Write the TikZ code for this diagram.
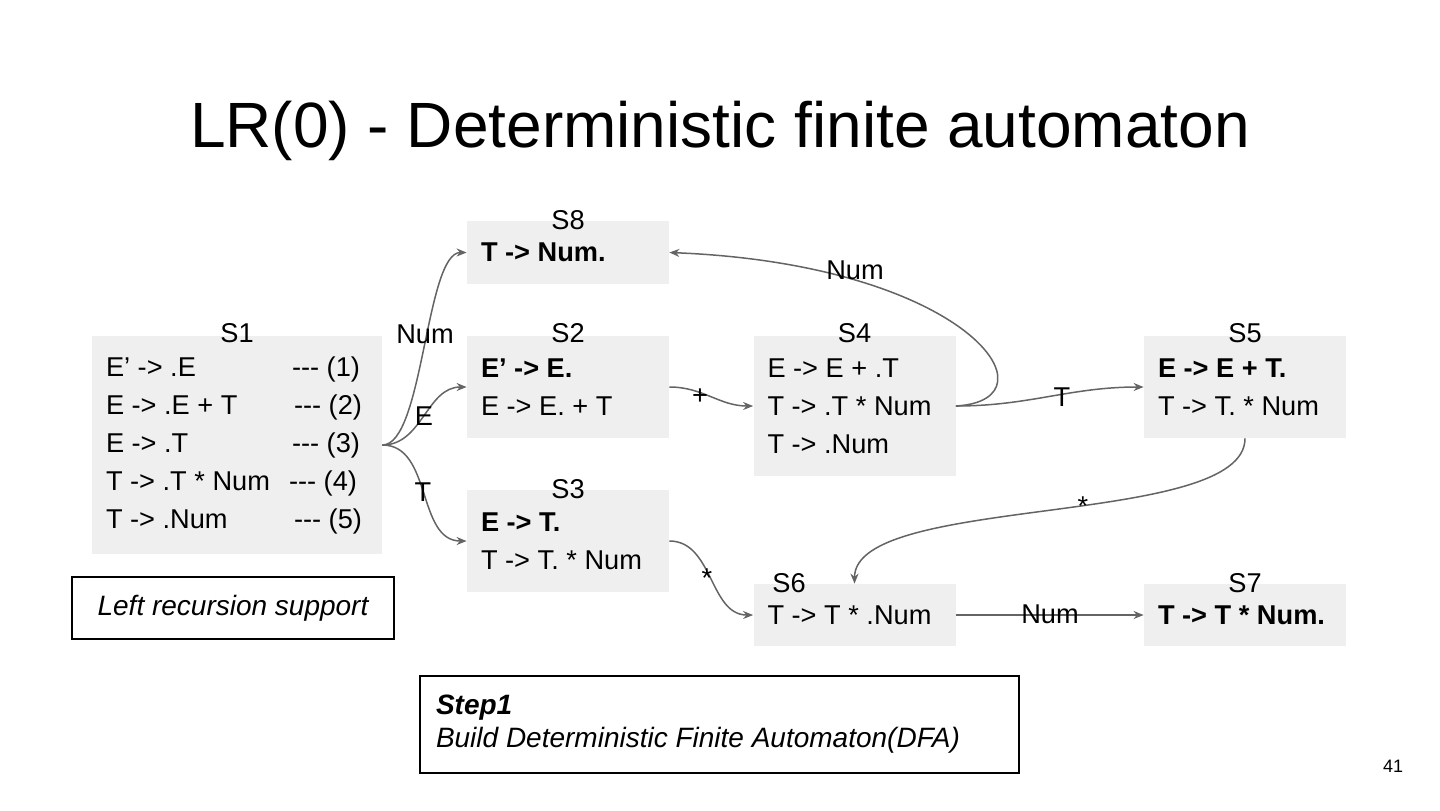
\documentclass[tikz,border=0pt]{standalone}
\usepackage{fontspec}
\setmainfont{Liberation Sans}
\usetikzlibrary{arrows.meta,positioning}
\definecolor{stategrey}{RGB}{239,239,239}
\definecolor{edgegrey}{RGB}{100,100,100}
\newcommand{\dsh}{-\kern0pt-\kern0pt-}
\newcommand{\bodyfont}{\fontsize{13.6}{19}\selectfont}
\tikzset{
  stbox/.style={fill=stategrey,align=flush left,inner xsep=7pt,inner ysep=0pt,font=\bodyfont,
                text width=87pt,minimum width=101pt},
  stname/.style={font=\bodyfont,inner sep=0pt},
  trans/.style={-{Stealth[length=5pt,width=4pt]},draw=edgegrey,line width=0.75pt},
  lbl/.style={font=\bodyfont,inner sep=0pt},
  note/.style={draw=black,line width=0.8pt,fill=white,font=\fontsize{14}{19}\selectfont\itshape},
}

\begin{document}
\begin{tikzpicture}[x=0.5pt,y=-0.5pt]
  \useasboundingbox (0,0) rectangle (1440,810);

  % --- title --------------------------------------------------------------
  \node[font=\fontsize{32}{38}\selectfont,anchor=base] (title) at (720,147)
        {LR(0) - Deterministic finite automaton};

  % --- states -------------------------------------------------------------
  \node[stbox,text width=131pt,minimum width=145pt,minimum height=109pt] (s1) at (237,445)
        {E’ -> .E\hfill\dsh{} (1)\rule{4pt}{0pt}\\
         E -> .E + T\hfill\dsh{} (2)\rule{3pt}{0pt}\\
         E -> .T\hfill\dsh{} (3)\rule{4pt}{0pt}\\
         T -> .T * Num\hfill\dsh{} (4)\rule{5.5pt}{0pt}\\
         T -> .Num\hfill\dsh{} (5)\rule{3pt}{0pt}};
  \node[stbox,minimum height=31.5pt] (s8) at (568,252.5) {\textbf{T -> Num.}};
  \node[stbox,minimum height=51pt]   (s2) at (568,387)
        {\textbf{E’ -> E.}\\E -> E. + T};
  \node[stbox,minimum height=51pt]   (s3) at (568,541)
        {\textbf{E -> T.}\\T -> T. * Num};
  \node[stbox,minimum height=70pt]   (s4) at (854.5,406)
        {E -> E + .T\\T -> .T * Num\\T -> .Num};
  \node[stbox,minimum height=51pt]   (s5) at (1245,387)
        {\textbf{E -> E + T.}\\T -> T. * Num};
  \node[stbox,minimum height=31pt]   (s6) at (854.5,615) {T -> T * .Num};
  \node[stbox,minimum height=31pt]   (s7) at (1245,615) {\textbf{T -> T * Num.}};

  % state names
  \node[stname] (n1) at ([yshift=1pt]s1.north) {S1};
  \node[stname] (n8) at (s8.north) {S8};
  \node[stname] (n2) at ([yshift=1pt]s2.north) {S2};
  \node[stname] (n3) at (s3.north) {S3};
  \node[stname] (n4) at ([yshift=1pt]s4.north) {S4};
  \node[stname] (n5) at ([yshift=1pt]s5.north) {S5};
  \node[stname] (n6) at ([xshift=18pt]s6.north west) {S6};
  \node[stname] (n7) at (s7.north) {S7};

  % --- transitions --------------------------------------------------------
  \draw[trans] (s1.east) to[out=0,in=180,looseness=0.5] (s8.west);
  \draw[trans] (s1.east) to[out=0,in=180] (s2.west);
  \draw[trans] (s1.east) to[out=0,in=180] (s3.west);
  \draw[trans] (s2.east) to[out=0,in=180] (s4.west);
  \draw[trans] (s3.east) to[out=0,in=180] (s6.west);
  \draw[trans] (s4.east) to[out=0,in=180] (s5.west);
  \draw[trans] (s4.east) .. controls +(105,-6) and +(300,12) .. (s8.east);
  \draw[trans] (s5.south) .. controls +(0,90) and +(0,-90) .. (s6.north);
  \draw[trans] (s6.east) -- (s7.west);

  % transition labels
  \node[lbl] (l18) at (425,334)  {Num};
  \node[lbl] (l12) at (424,416)  {E};
  \node[lbl] (l13) at (423,492)  {T};
  \node[lbl] (l24) at (700,397)  {+};
  \node[lbl] (l36) at (707,578)  {*};
  \node[lbl] (l45) at (1062,397) {T};
  \node[lbl] (l48) at (855,270)  {Num};
  \node[lbl] (l56) at (1083,506) {*};
  \node[lbl] (l67) at (1050,614) {Num};

  % --- notes --------------------------------------------------------------
  \node[note,minimum width=161pt,minimum height=31pt] (lrec) at (233,608)
        {Left recursion support};
  \node[note,align=flush left,text width=283.5pt,minimum width=299.5pt,minimum height=48.5pt,
        inner xsep=8pt,font=\fontsize{14}{16.5}\selectfont\itshape] (step) at (719.5,724.5)
        {\textbf{Step1}\\Build Deterministic Finite Automaton(DFA)};

  \node[font=\fontsize{9}{11}\selectfont] (pgno) at (1393,766) {41};
\end{tikzpicture}
\end{document}
